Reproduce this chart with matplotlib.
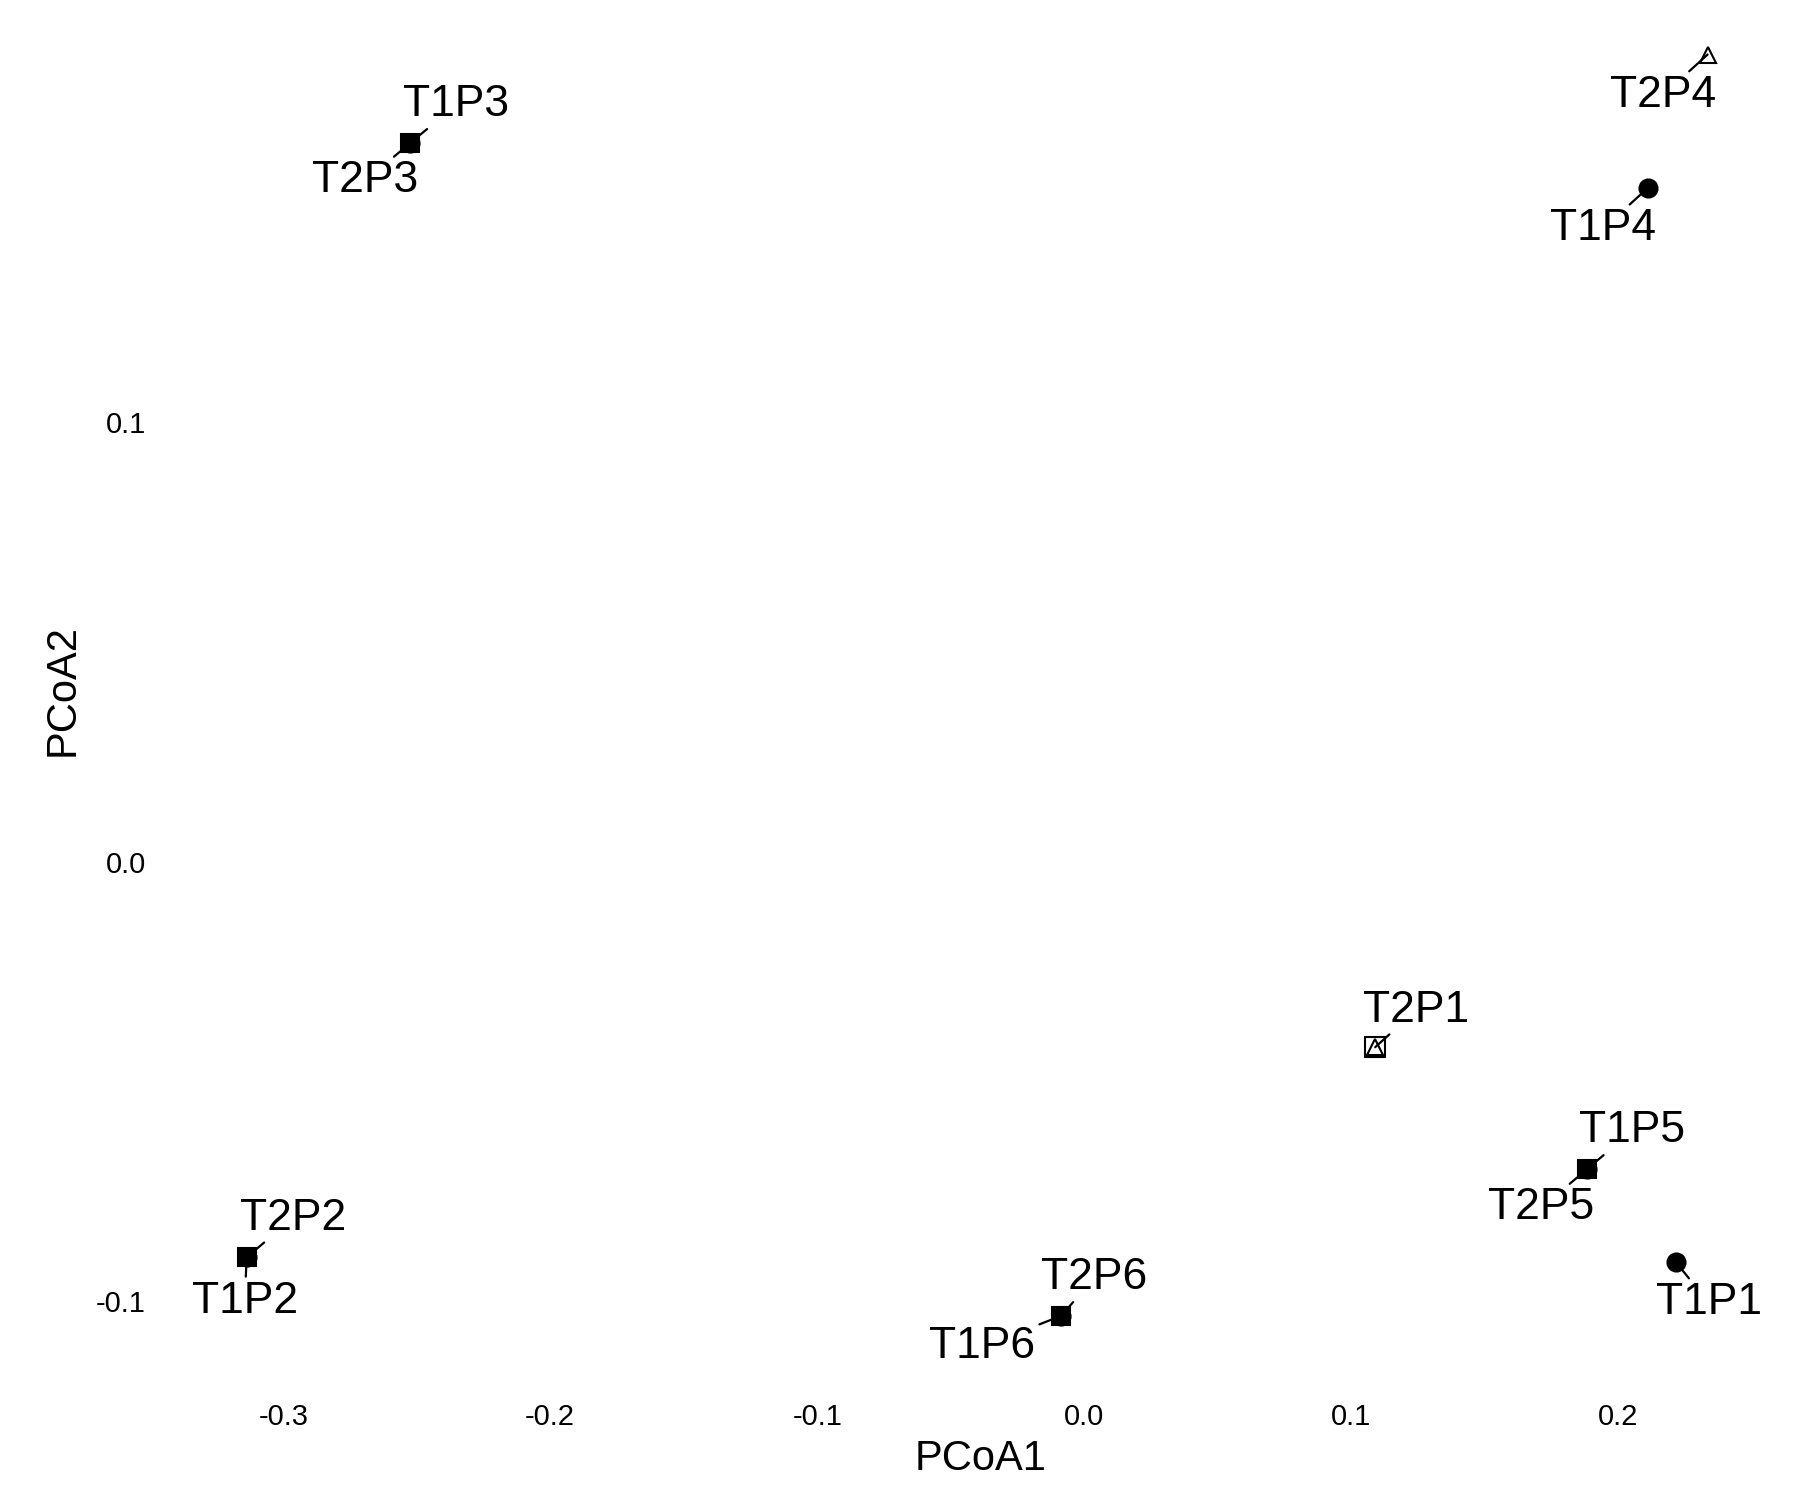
import matplotlib
matplotlib.use("Agg")
import matplotlib.pyplot as plt

plt.rcParams['font.family'] = ['Liberation Sans', 'DejaVu Sans']

# ---- data ----
samples = ["T1P1", "T1P2", "T1P3", "T1P4", "T1P5", "T1P6",
           "T2P1", "T2P2", "T2P3", "T2P4", "T2P5", "T2P6"]
pcoa1 = [0.2215, -0.3137, -0.2524, 0.2112, 0.1884, -0.0086,
         0.1090, -0.3137, -0.2524, 0.2335, 0.1884, -0.0086]
pcoa2 = [-0.0910, -0.0900, 0.1635, 0.1533, -0.0699, -0.1033,
         -0.0422, -0.0900, 0.1635, 0.1836, -0.0699, -0.1033]
x_ticks = [-0.3, -0.2, -0.1, 0.0, 0.1, 0.2]
y_ticks = [-0.1, 0.0, 0.1]
x_label = "PCoA1"
y_label = "PCoA2"

# ---- styles / layout ----
marker_style = {
    "T1P1": [("o", "black")], "T1P2": [("o", "black")], "T1P3": [("o", "black")],
    "T1P4": [("o", "black")], "T1P5": [("o", "black")], "T1P6": [("o", "black")],
    "T2P1": [("s", "none"), ("^", "none")], "T2P2": [("s", "black")],
    "T2P3": [("s", "black")], "T2P4": [("^", "none")],
    "T2P5": [("s", "black")], "T2P6": [("s", "black")],
}
label_offsets = {  # pixels (x right, y up)
    "T1P3": (46, 38), "T2P3": (-45, -38), "T2P4": (-45, -41), "T1P4": (-45, -41),
    "T2P1": (41, 37), "T1P5": (45, 38), "T2P5": (-46, -39), "T1P1": (33, -41),
    "T2P2": (46, 39), "T1P2": (-2, -44), "T2P6": (33, 38), "T1P6": (-79, -31),
}

fig = plt.figure(figsize=(17.97, 14.99), dpi=100)
ax = fig.add_axes([0.0982, 0.0791, 0.8944, 0.9209])
ax.set_xlim(-0.34, 0.262)
ax.set_ylim(-0.118, 0.196)

for name, x, y in zip(samples, pcoa1, pcoa2):
    for m, fc in marker_style[name]:
        ms = 13 if m != "^" else 11
        if fc == "none" and m == "s":
            ms = 14
        ax.plot([x], [y], marker=m, markersize=ms, markerfacecolor=fc,
                markeredgecolor="black", markeredgewidth=1.5, linestyle="none", zorder=3)

for name, x, y in zip(samples, pcoa1, pcoa2):
    dx, dy = label_offsets[name]
    ax.annotate(name, xy=(x, y), xytext=(dx, dy), textcoords="offset pixels",
                ha="center", va="center", fontsize=32, color="black",
                arrowprops=dict(arrowstyle="-", color="black", lw=1.6,
                                shrinkA=1, shrinkB=0), zorder=4)

ax.set_xticks(x_ticks)
ax.set_xticklabels([f"{v:.1f}" for v in x_ticks])
ax.set_yticks(y_ticks)
ax.set_yticklabels([f"{v:.1f}" for v in y_ticks])
ax.tick_params(axis="both", length=0, labelsize=21)
ax.tick_params(axis="x", pad=16)
ax.tick_params(axis="y", pad=22)
for s in ax.spines.values():
    s.set_visible(False)

ax.set_xlabel(x_label, fontsize=30, labelpad=6)
ax.set_ylabel(y_label, fontsize=30, labelpad=10)

fig.savefig("out.png", dpi=100, facecolor="white")
